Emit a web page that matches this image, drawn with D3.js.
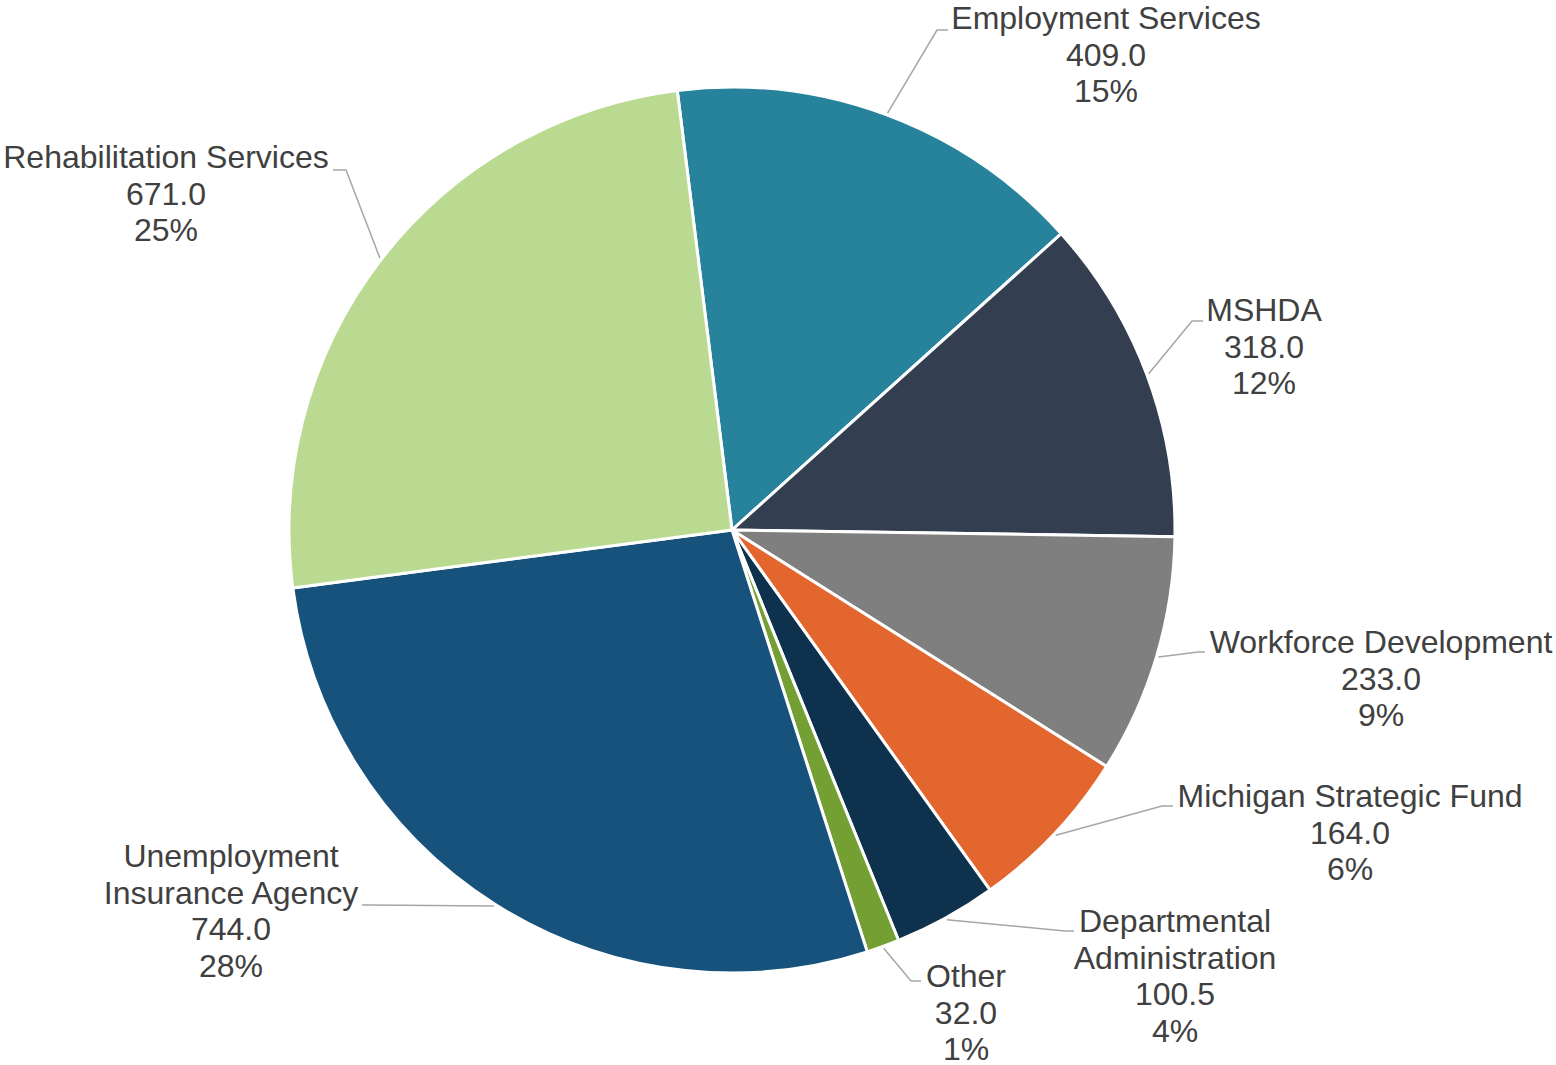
<!DOCTYPE html>
<html>
<head>
<meta charset="utf-8">
<script src="https://cdn.jsdelivr.net/npm/d3@7/dist/d3.min.js"></script>
<style>
  html, body { margin: 0; padding: 0; background: #fff; }
  svg { display: block; }
  text { font-family: "Liberation Sans", Arial, sans-serif; }
</style>
</head>
<body>
<svg id="chart" width="1556" height="1065"></svg>
<script>
// Budget by program (millions)
const categories = [
  "Employment Services",
  "MSHDA",
  "Workforce Development",
  "Michigan Strategic Fund",
  "Departmental Administration",
  "Other",
  "Unemployment Insurance Agency",
  "Rehabilitation Services"
];
const values = [409.0, 318.0, 233.0, 164.0, 100.5, 32.0, 744.0, 671.0];
const colors = ["#26839B", "#333F50", "#7F7F7F", "#E3662E", "#0E314D", "#74A033", "#17527C", "#BBDA91"];
// Label text lines for the category name (wrapped where needed)
const nameLines = [
  ["Employment Services"],
  ["MSHDA"],
  ["Workforce Development"],
  ["Michigan Strategic Fund"],
  ["Departmental", "Administration"],
  ["Other"],
  ["Unemployment", "Insurance Agency"],
  ["Rehabilitation Services"]
];

// Label placement: text centre x, first-line baseline y, elbow point, and line end point
const labelLayout = [
  { tx: 1106, ty: 29,  elbow: [937, 30],  end: [948, 30] },
  { tx: 1264, ty: 321, elbow: [1192, 321], end: [1203, 321] },
  { tx: 1381, ty: 653, elbow: [1198, 652], end: [1205, 652] },
  { tx: 1350, ty: 807, elbow: [1162, 806], end: [1173, 806] },
  { tx: 1175, ty: 932, elbow: [1065, 931], end: [1074, 931] },
  { tx: 966,  ty: 987, elbow: [911, 981],  end: [921, 981] },
  { tx: 231,  ty: 867, elbow: [370, 905],  end: [362, 905] },
  { tx: 166,  ty: 168, elbow: [346, 170],  end: [333, 170] }
];

const width = 1556, height = 1065;
const cx = 732, cy = 530, radius = 443;
const fontSize = 32;
const lineHeight = 36.7;

const data = categories.map((c, i) => ({ name: c, value: values[i], color: colors[i], lines: nameLines[i], layout: labelLayout[i] }));
const total = d3.sum(values);

const startAngle = -7.1 * Math.PI / 180;
const pie = d3.pie().value(d => d.value).sort(null)
  .startAngle(startAngle).endAngle(startAngle + 2 * Math.PI);
const arcs = pie(data);

const arc = d3.arc().innerRadius(0).outerRadius(radius);

const svg = d3.select("#chart");
const g = svg.append("g").attr("transform", `translate(${cx},${cy})`);

g.selectAll("path.slice")
  .data(arcs)
  .join("path")
  .attr("class", "slice")
  .attr("d", arc)
  .attr("fill", d => d.data.color)
  .attr("stroke", "#fff")
  .attr("stroke-width", 3)
  .attr("stroke-linejoin", "round");

// Leader lines from each slice's outer midpoint to its label
const leader = svg.append("g");
arcs.forEach(a => {
  const mid = (a.startAngle + a.endAngle) / 2;
  const r0 = radius + 2;
  const sx = cx + r0 * Math.sin(mid);
  const sy = cy - r0 * Math.cos(mid);
  const L = a.data.layout;
  leader.append("polyline")
    .attr("points", [[sx, sy], L.elbow, L.end].map(p => p.join(",")).join(" "))
    .attr("fill", "none")
    .attr("stroke", "#A6A6A6")
    .attr("stroke-width", 1.5);
});

// Labels: name, value, percentage
const fmtVal = d3.format(".1f");
const labels = svg.append("g");
arcs.forEach(a => {
  const d = a.data;
  const L = d.layout;
  const rows = d.lines.concat([fmtVal(d.value), Math.round(d.value / total * 100) + "%"]);
  const t = labels.append("text")
    .attr("x", L.tx)
    .attr("y", L.ty)
    .attr("text-anchor", "middle")
    .attr("font-size", fontSize)
    .attr("fill", "#404040");
  rows.forEach((r, i) => {
    t.append("tspan").attr("x", L.tx).attr("dy", i === 0 ? 0 : lineHeight).text(r);
  });
});
</script>
</body>
</html>
